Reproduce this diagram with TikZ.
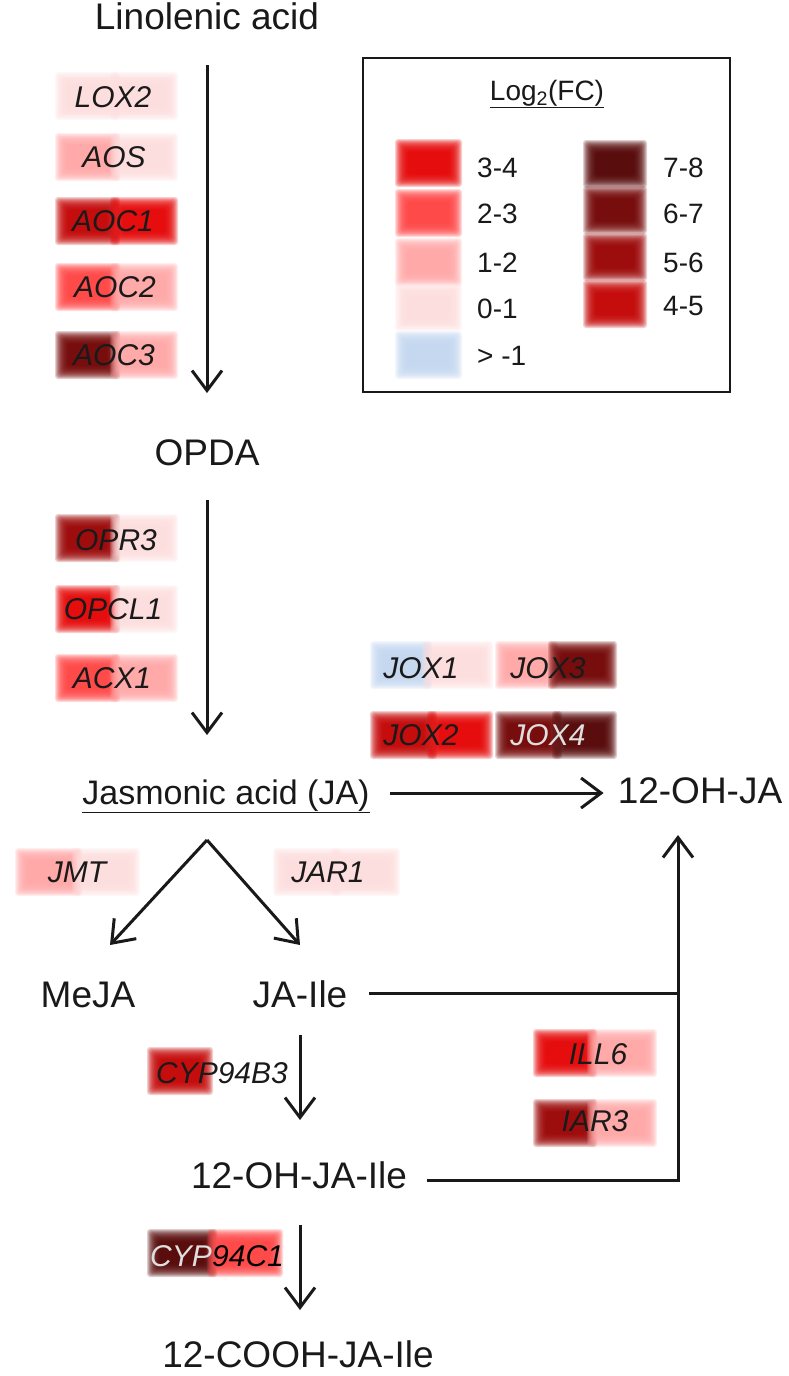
\documentclass[tikz,border=0pt]{standalone}
\usepackage{fontspec}
\setmainfont{Liberation Sans}
\usetikzlibrary{arrows.meta,calc}
\definecolor{c01}{HTML}{FDDCDC}
\definecolor{c12}{HTML}{FFA4A4}
\definecolor{c23}{HTML}{FF4040}
\definecolor{c34}{HTML}{E40000}
\definecolor{c45}{HTML}{C20000}
\definecolor{c56}{HTML}{980000}
\definecolor{c67}{HTML}{700000}
\definecolor{c78}{HTML}{500000}
\definecolor{cneg}{HTML}{C2D6EF}
\definecolor{gtext}{HTML}{1A1A1A}
\newcommand\gbhalf[4]{\foreach \e in {0,1,...,13}{\fill[#4, fill opacity=0.19, rounded corners=3pt] ({#1+\e},{#3-24+\e}) rectangle ({#2-\e},{#3+24-\e});}}
\newcommand\genebox[6]{\gbhalf{#1}{#2+5}{#4}{#5}\gbhalf{#2-5}{#3}{#4}{#6}}
\tikzset{
  main/.style={font=\fontsize{37}{40}\selectfont, text=black!90, inner sep=0pt, anchor=base},
  gene/.style={font=\itshape\fontsize{30}{34}\selectfont, text=gtext, inner sep=0pt},
  leg/.style={font=\fontsize{28}{32}\selectfont, text=black!90, inner sep=0pt, anchor=base west},
  conn/.style={line width=3pt, black!90},
  arr/.style={conn, -{Straight Barb[length=20pt,width=30pt]}},
}
\begin{document}
\begin{tikzpicture}[x=1pt,y=-1pt]
\useasboundingbox (0,0) rectangle (789,1376);
% heat boxes
\genebox{55}{115}{178}{96}{c01}{c01}
\genebox{55}{115}{178}{157}{c12}{c01}
\genebox{55}{115}{178}{221}{c45}{c34}
\genebox{55}{115}{178}{287}{c23}{c12}
\genebox{55}{115}{178}{355}{c67}{c12}
\genebox{55}{115}{178}{538}{c56}{c01}
\genebox{55}{115}{178}{609}{c34}{c01}
\genebox{55}{115}{178}{678}{c23}{c12}
\genebox{370}{427}{493}{665}{cneg}{c01}
\genebox{495}{553}{617}{665}{c12}{c67}
\genebox{370}{432}{493}{735}{c45}{c34}
\genebox{495}{557}{617}{735}{c67}{c78}
\genebox{15}{77}{140}{872}{c12}{c01}
\genebox{273}{336}{400}{872}{c01}{c01}
\gbhalf{147}{213}{1071}{c45}
\genebox{147}{212}{283}{1253}{c78}{c23}
\genebox{533}{592}{657}{1053}{c34}{c12}
\genebox{533}{592}{657}{1123}{c56}{c12}
% gene labels
\node[gene] (gLOX2) at (113,97) {LOX2};
\node[gene] (gAOS) at (114,157) {AOS};
\node[gene] (gAOC1) at (113,221) {AOC1};
\node[gene] (gAOC2) at (115,287) {AOC2};
\node[gene] (gAOC3) at (114,355) {AOC3};
\node[gene] (gOPR3) at (116,540) {OPR3};
\node[gene] (gOPCL1) at (113,609) {OPCL1};
\node[gene] (gACX1) at (112,678) {ACX1};
\node[gene] (gJOX1) at (421,668) {JOX1};
\node[gene] (gJOX3) at (548,668) {JOX3};
\node[gene] (gJOX2) at (421,735) {JOX2};
\node[gene, text=gray!25] (gJOX4) at (548,735) {JOX4};
\node[gene] (gJMT) at (77,872) {JMT};
\node[gene] (gJAR1) at (328,872) {JAR1};
\node[gene] (gCYPB) at (222,1073) {CYP94B3};
\node[gene, text=gray!25, anchor=base east] (gCYPCa) at (212,1266) {CYP};
\node[gene, text=black, anchor=base west] (gCYPCb) at (gCYPCa.base east) {94C1};
\node[gene] (gILL6) at (598,1054) {ILL6};
\node[gene] (gIAR3) at (595,1121) {IAR3};
% metabolites
\node[main] (lin) at (207,29) {Linolenic acid};
\node[main] (opda) at (207,465) {OPDA};
\node[main, font=\fontsize{34}{38}\selectfont] (ja) at (226,804) {\underline{Jasmonic acid (JA)}};
\node[main] (ohja) at (700,803) {12-OH-JA};
\node[main] (meja) at (88,1007) {MeJA};
\node[main] (jaile) at (300,1007) {JA-Ile};
\node[main] (ohjaile) at (299,1188) {12-OH-JA-Ile};
\node[main] (cooh) at (298,1367) {12-COOH-JA-Ile};
\coordinate (apex) at (207,840);
\coordinate (up) at (678,835);
% connectors
\draw[arr] ([yshift=-36pt]lin.base) -- ([yshift=72pt]opda.base);
\draw[arr] ([yshift=-35pt]opda.base) -- ([yshift=69pt]opda.base |- ja.base);
\draw[arr] ([xshift=20pt,yshift=11pt]ja.base east) -- ([xshift=-14pt,yshift=10pt]ohja.base west);
\draw[arr] (apex) -- ([xshift=22pt,yshift=62pt]meja.base);
\draw[arr] (apex) -- ([yshift=62pt]jaile.base);
\coordinate (jaileR) at ([xshift=22pt,yshift=14pt]jaile.base east);
\coordinate (ohjaileR) at ([xshift=20pt,yshift=8pt]ohjaile.base east);
\draw[conn] (jaileR) -- (jaileR -| up);
\draw[arr] (ohjaileR) -| (up);
\draw[arr] ([yshift=-28pt]jaile.base) -- ([yshift=68pt]jaile.base |- ohjaile.base);
\draw[arr] ([yshift=-37pt]jaile.base |- ohjaile.base) -- ([yshift=57pt]jaile.base |- cooh.base);
% legend
\draw[line width=2pt, black!90] (363,58) rectangle (730,392);
\node[leg, anchor=base] (legt) at (547,100) {\underline{Log\textsubscript{2}(FC)}};
\gbhalf{395}{462}{163}{c34}
\gbhalf{395}{462}{213}{c23}
\gbhalf{395}{462}{262}{c12}
\gbhalf{395}{462}{307}{c01}
\gbhalf{395}{462}{355}{cneg}
\gbhalf{583}{647}{164}{c78}
\gbhalf{583}{647}{210}{c67}
\gbhalf{583}{647}{257}{c56}
\gbhalf{583}{647}{304}{c45}
\node[leg] (l34) at (477,177) {3-4};
\node[leg] (l23) at (477,223) {2-3};
\node[leg] (l12) at (477,272) {1-2};
\node[leg] (l01) at (477,318) {0-1};
\node[leg] (lneg) at (477,365) {> -1};
\node[leg] (l78) at (663,177) {7-8};
\node[leg] (l67) at (663,223) {6-7};
\node[leg] (l56) at (663,272) {5-6};
\node[leg] (l45) at (663,315) {4-5};
\end{tikzpicture}
\end{document}
